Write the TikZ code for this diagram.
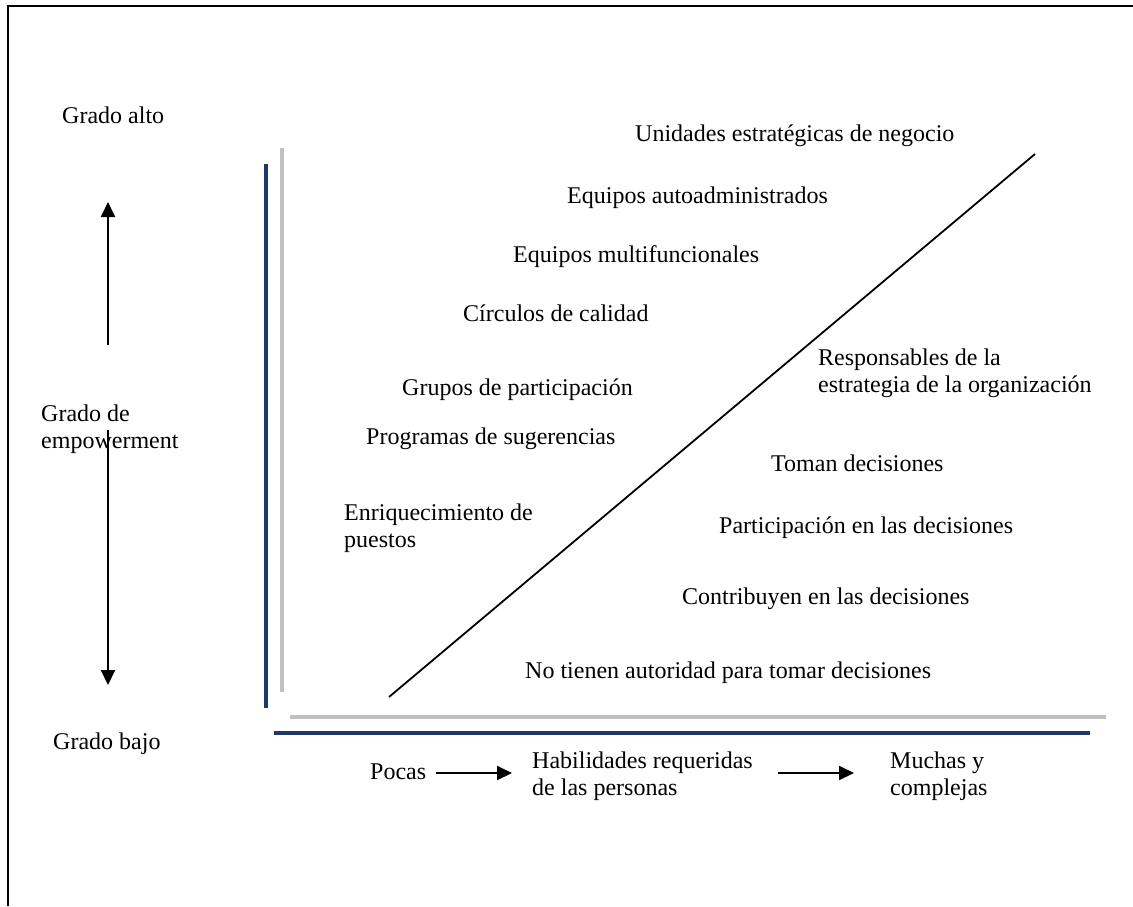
\documentclass[tikz,border=0pt]{standalone}
\usepackage{fontspec}
\setmainfont{Liberation Serif}
\usetikzlibrary{arrows.meta}
\definecolor{navy}{RGB}{31,56,100}
\definecolor{lgray}{RGB}{192,192,192}
\tikzset{
  lbl/.style={inner sep=0pt, font=\fontsize{24}{27}\selectfont, align=left},
  navyline/.style={draw=navy, line width=4pt},
  grayline/.style={draw=lgray, line width=4pt},
  arr/.style={draw=black, line width=2pt, -{Triangle[length=15pt,width=14pt]}},
}
\begin{document}
\begin{tikzpicture}[x=1pt,y=-1pt]
\useasboundingbox (0,0) rectangle (1133,906);
% frame
\draw[line width=2pt] (8,906) -- (8,6) -- (1133,6);
% axes
\coordinate (nv1) at (265.5,164); \coordinate (nv2) at (265.5,708);
\coordinate (gv1) at (282,148); \coordinate (gv2) at (282,692);
\coordinate (gh1) at (290,716.5); \coordinate (gh2) at (1106,716.5);
\coordinate (nh1) at (274,732.5); \coordinate (nh2) at (1090,732.5);
\draw[navyline] (nv1) -- (nv2);
\draw[grayline] (gv1) -- (gv2);
\draw[grayline] (gh1) -- (gh2);
\draw[navyline] (nh1) -- (nh2);
% diagonal
\coordinate (d1) at (389,697); \coordinate (d2) at (1035,154);
\draw[line width=1.8pt] (d1) -- (d2);
% left labels
\node[lbl, anchor=mid west] (galto) at (62,121) {Grado alto};
\node[lbl, anchor=west] (gemp) at (41,429) {Grado de\\empowerment};
\node[lbl, anchor=mid west] (gbajo) at (53,747) {Grado bajo};
\coordinate (ua1) at (108,345); \coordinate (ua2) at (108,202);
\coordinate (da1) at (108,430); \coordinate (da2) at (108,685);
\draw[arr] (ua1) -- (ua2);
\draw[arr] (da1) -- (da2);
% upper-left list
\node[lbl, anchor=mid west] (u1) at (635,139) {Unidades estratégicas de negocio};
\node[lbl, anchor=mid west] (u2) at (567,201) {Equipos autoadministrados};
\node[lbl, anchor=mid west] (u3) at (513,260) {Equipos multifuncionales};
\node[lbl, anchor=mid west] (u4) at (463,319) {Círculos de calidad};
\node[lbl, anchor=mid west] (u5) at (402,393) {Grupos de participación};
\node[lbl, anchor=mid west] (u6) at (366,442) {Programas de sugerencias};
\node[lbl, anchor=west] (u7) at (344,528) {Enriquecimiento de\\puestos};
% lower-right list
\node[lbl, anchor=west] (r1) at (818,373) {Responsables de la\\estrategia de la organización};
\node[lbl, anchor=mid west] (r2) at (771,469) {Toman decisiones};
\node[lbl, anchor=mid west] (r3) at (719,531) {Participación en las decisiones};
\node[lbl, anchor=mid west] (r4) at (682,602) {Contribuyen en las decisiones};
\node[lbl, anchor=mid west] (r5) at (525,676) {No tienen autoridad para tomar decisiones};
% bottom
\node[lbl, anchor=mid west] (pocas) at (370,777) {Pocas};
\node[lbl, anchor=west] (habil) at (532,776) {Habilidades requeridas\\de las personas};
\node[lbl, anchor=west] (muchas) at (890,776) {Muchas y\\complejas};
\coordinate (a1s) at (436,773); \coordinate (a1e) at (512,773);
\coordinate (a2s) at (778,773); \coordinate (a2e) at (854,773);
\draw[arr] (a1s) -- (a1e);
\draw[arr] (a2s) -- (a2e);
\end{tikzpicture}
\end{document}
